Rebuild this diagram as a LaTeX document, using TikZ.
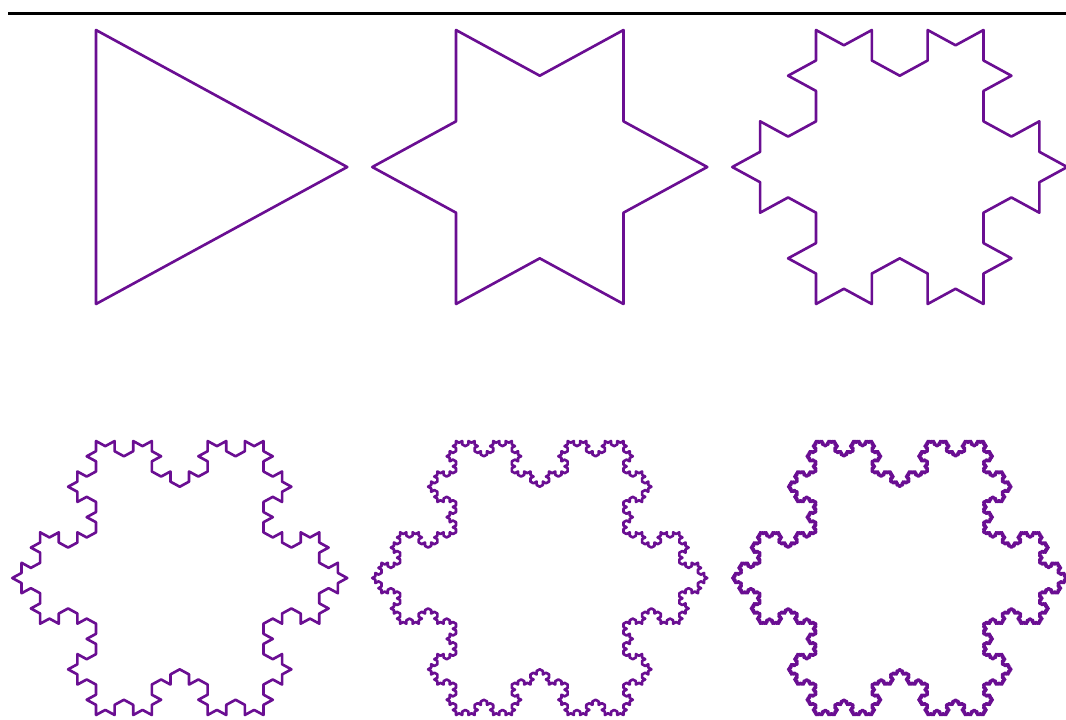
\documentclass[tikz,border=0pt]{standalone}
\usetikzlibrary{lindenmayersystems}

\definecolor{flakepurple}{RGB}{106,14,146}

\pgfdeclarelindenmayersystem{Koch flake}{
  \rule{F -> F-F++F-F}
}

\tikzset{
  flake/.style={draw=flakepurple, line width=1.5pt, line join=round, line cap=round},
}

\begin{document}
\begin{tikzpicture}[x=0.02cm,y=0.02cm]
\useasboundingbox (0,0) rectangle (1066,720);

\draw[line width=1.7pt] (8,706) -- (1066,706);

\foreach \n/\cx/\cy/\st in {0/180/553/5.48cm, 1/540/553/1.82667cm, 2/900/553/0.60889cm,
                            3/180/142/0.20296cm, 4/540/142/0.067654cm, 5/900/142/0.022551cm}{
  \coordinate (start\n) at (\cx-84,\cy-137);
  \begin{scope}[shift={(start\n)}, xscale=1.059, rotate=30]
    \draw[flake, l-system={Koch flake, axiom=F++F++F, order=\n, step=\st, angle=60}]
      (0,0) lindenmayer system -- cycle;
  \end{scope}
}
\end{tikzpicture}
\end{document}
